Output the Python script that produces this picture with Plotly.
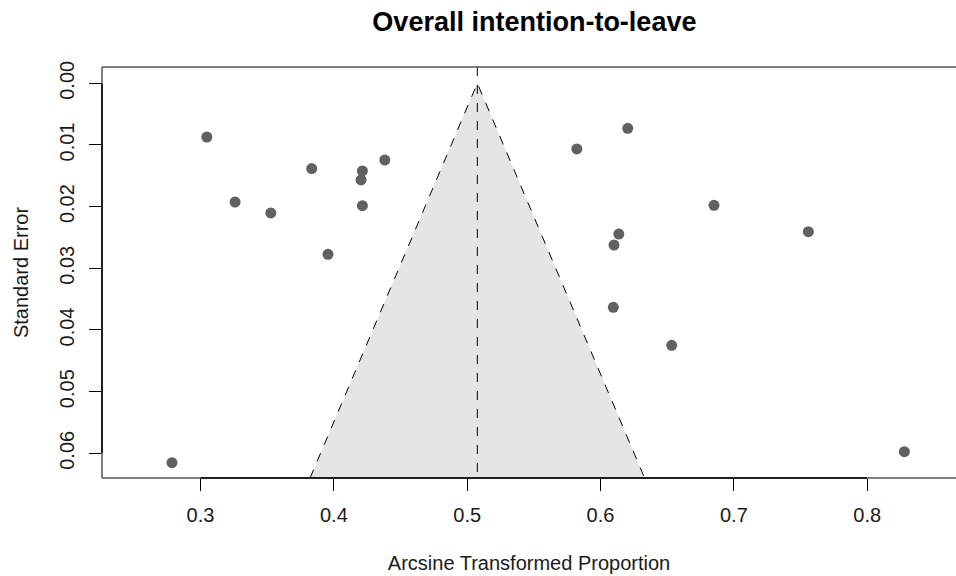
import plotly.graph_objects as go

# Data
est = [0.3047, 0.3259, 0.3527, 0.3834, 0.4214, 0.4204, 0.4382, 0.4214, 0.3956,
       0.5822, 0.6204, 0.6137, 0.6101, 0.6096, 0.6534, 0.6851, 0.7559, 0.8279, 0.2786]
se = [0.00871, 0.01925, 0.02103, 0.01382, 0.01422, 0.01567, 0.01244, 0.01985, 0.02773,
      0.01065, 0.00730, 0.02444, 0.02622, 0.03632, 0.04248, 0.01978, 0.02406, 0.05974, 0.06152]
pooled = 0.5076
se_max = 0.0640
x_ticks = [0.3, 0.4, 0.5, 0.6, 0.7, 0.8]
y_ticks = [0.00, 0.01, 0.02, 0.03, 0.04, 0.05, 0.06]

x_range = [0.2261, 0.8666]
y_range = [se_max, -0.00264]

fig = go.Figure()

# funnel region
fig.add_trace(go.Scatter(
    x=[pooled - 1.96 * se_max, pooled, pooled + 1.96 * se_max],
    y=[se_max, 0, se_max],
    mode="lines", fill="toself", fillcolor="#e5e5e5",
    line=dict(color="black", width=1, dash="dash"),
    hoverinfo="skip", showlegend=False))

# vertical dashed line at pooled estimate
fig.add_trace(go.Scatter(
    x=[pooled, pooled], y=[y_range[1], se_max],
    mode="lines", line=dict(color="black", width=1, dash="dash"),
    hoverinfo="skip", showlegend=False))

# studies
fig.add_trace(go.Scatter(
    x=est, y=se, mode="markers",
    marker=dict(size=11, color="#616161"),
    showlegend=False))

font = "Liberation Sans, Arial, sans-serif"
txt = "#1a1a1a"

fig.update_layout(
    width=956, height=576,
    margin=dict(l=102, r=0, t=67, b=98, autoexpand=False),
    paper_bgcolor="white", plot_bgcolor="white",
    font=dict(family=font, color=txt),
    title=dict(text="<b>Overall intention-to-leave</b>", x=0.559, xanchor="center",
               y=1 - 22 / 576, yanchor="middle", font=dict(size=27, family=font, color="black")),
    xaxis=dict(range=x_range, tickvals=x_ticks, ticktext=[f"{v:.1f}" for v in x_ticks],
               showgrid=False, zeroline=False, showline=False, automargin=False,
               ticks="outside", ticklen=12, tickcolor="black", tickwidth=1,
               tickfont=dict(size=20, family=font, color=txt),
               ticklabelstandoff=7,
               title=dict(text="Arcsine Transformed Proportion", standoff=30,
                          font=dict(size=20, family=font, color=txt))),
    yaxis=dict(range=y_range, tickvals=y_ticks, ticktext=[f"{v:.2f}" for v in y_ticks],
               showgrid=False, zeroline=False, showline=False, automargin=False,
               ticks="outside", ticklen=12, tickcolor="black", tickwidth=1,
               tickangle=-90,
               tickfont=dict(size=20, family=font, color=txt),
               ticklabelstandoff=7,
               title=dict(text="Standard Error", standoff=22,
                          font=dict(size=20, family=font, color=txt))),
)

# box: left, top, bottom (right edge cut off)
box_col = "#555555"
fig.add_shape(type="line", xref="paper", yref="paper", x0=0, x1=0, y0=0, y1=1,
              line=dict(color=box_col, width=1.5))
fig.add_shape(type="line", xref="paper", yref="paper", x0=0, x1=1.01, y0=1, y1=1,
              line=dict(color=box_col, width=1.5))
fig.add_shape(type="line", xref="paper", yref="paper", x0=0, x1=1.01, y0=0, y1=0,
              line=dict(color=box_col, width=1.5))
# R-style axis line between first and last tick
fig.add_shape(type="line", xref="x", yref="paper", x0=x_ticks[0], x1=x_ticks[-1], y0=0, y1=0,
              line=dict(color="black", width=1.5))
fig.add_shape(type="line", xref="paper", yref="y", x0=0, x1=0, y0=y_ticks[0], y1=y_ticks[-1],
              line=dict(color="black", width=1.5))

fig.write_html("out.html", config={"displayModeBar": False},
               post_script="document.body.style.margin='0';document.body.style.overflow='hidden';")
